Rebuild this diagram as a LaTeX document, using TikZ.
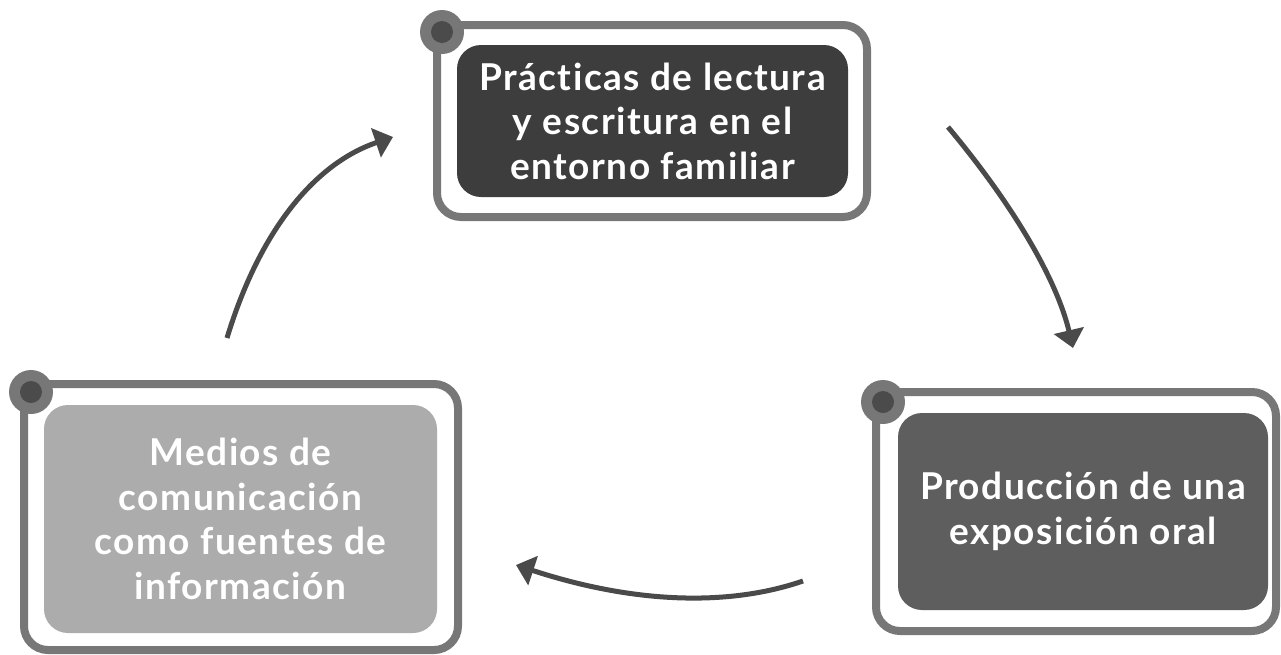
\documentclass[tikz,border=0pt]{standalone}
\usepackage{fontspec}
\setmainfont{Lato}[Ligatures=NoCommon,LetterSpace=4]
\usetikzlibrary{arrows.meta,positioning}
\definecolor{framegray}{HTML}{777777}
\definecolor{dotdark}{HTML}{4B4B4B}
\definecolor{arrowgray}{HTML}{4A4A4A}
\definecolor{fillA}{HTML}{3D3D3D}
\definecolor{fillB}{HTML}{5E5E5E}
\definecolor{fillC}{HTML}{ACACAC}
\tikzset{
  frame/.style={draw=framegray, line width=4pt, rounded corners=12pt, fill=white, inner sep=0pt},
  card/.style={rounded corners=12pt, inner sep=0pt, text=white, align=center,
    font=\bfseries\fontsize{18.5}{22.3}\selectfont},
  dotout/.style={circle, fill=framegray, minimum size=22pt, inner sep=0pt},
  dotin/.style={circle, fill=dotdark, minimum size=11pt, inner sep=0pt},
  flow/.style={draw=arrowgray, line width=2.5pt, -{Triangle[length=9pt,width=15pt]}}
}
\begin{document}
\begin{tikzpicture}[x=0.5pt,y=-0.5pt]
\useasboundingbox (0,0) rectangle (1281,654);
% top box
\node[frame, minimum width=215pt, minimum height=96pt] (fA) at (652,121) {};
\node[card, fill=fillA, minimum width=195.5pt, minimum height=76pt] (A) at (652.5,121)
  {Prácticas de lectura\\y escritura en el\\entorno familiar};
\node[dotout] (oA) at (442,32) {};
\node[dotin] (iA) at (oA) {};
% right box
\node[frame, minimum width=200pt, minimum height=119.5pt] (fB) at (1076,511.5) {};
\node[card, fill=fillB, minimum width=185pt, minimum height=98.5pt] (B) at (1083,511.5)
  {Producción de una\\exposición oral};
\node[dotout] (oB) at (883,402) {};
\node[dotin] (iB) at (oB) {};
% left box
\node[frame, minimum width=217pt, minimum height=133pt] (fC) at (241,517) {};
\node[card, fill=fillC, minimum width=196.5pt, minimum height=114pt] (C) at (240.5,519)
  {Medios de\\comunicación\\como fuentes de\\información};
\node[dotout] (oC) at (31,392) {};
\node[dotin] (iC) at (oC) {};
% arrows
\coordinate (s1) at (948,127);
\coordinate (e1) at (1073,348);
\coordinate (s2) at (803,581);
\coordinate (e2) at (516,565);
\coordinate (s3) at (227,338);
\coordinate (e3) at (393,137);
\draw[flow] (s1) .. controls (1015.7,208) and (1057.3,281.7) .. (e1);
\draw[flow] (s2) .. controls (725.3,607.7) and (629.7,602.3) .. (e2);
\draw[flow] (s3) .. controls (259.7,230.3) and (315,163.3) .. (e3);
\end{tikzpicture}
\end{document}
